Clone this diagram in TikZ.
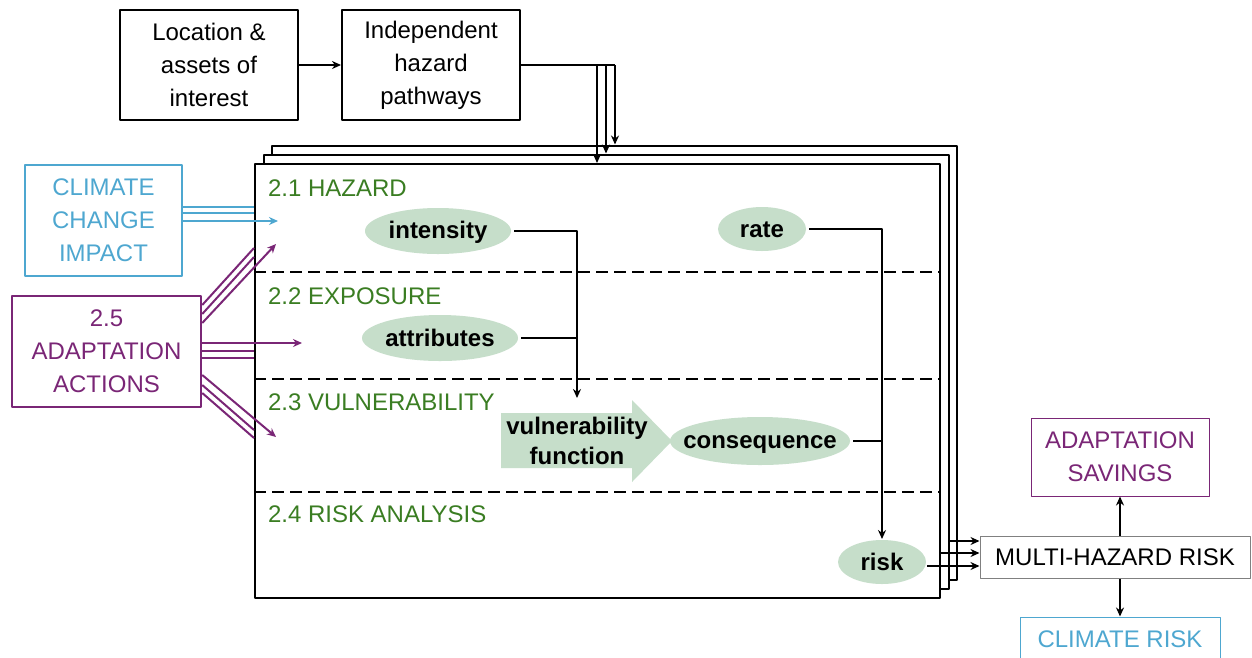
\documentclass[tikz,border=0pt]{standalone}
\usepackage{fontspec}
\setmainfont{Liberation Sans}
\usetikzlibrary{arrows.meta,shapes.geometric}
\definecolor{hazgreen}{RGB}{58,125,34}
\definecolor{blobgreen}{RGB}{198,222,202}
\definecolor{climblue}{RGB}{78,167,208}
\definecolor{adpurple}{RGB}{122,38,118}
\newcommand{\blobtxt}[1]{\makebox[0pt]{\vphantom{Ay}\raisebox{-2.5pt}{#1}}}
\begin{document}
\begin{tikzpicture}[x=1pt, y=-1pt, >={Stealth[length=9pt,width=8pt]}, line width=2pt, line join=round,
  font=\fontsize{24}{33}\selectfont,
  inbox/.style={draw, minimum width=178pt, minimum height=110pt, align=center},
  layer/.style={draw, fill=white, minimum width=685pt, minimum height=434pt, inner sep=0pt},
  sect/.style={anchor=west, inner sep=0pt, text=hazgreen},
  blob/.style={ellipse, fill=blobgreen, inner sep=0pt, font=\fontsize{24}{30}\selectfont\bfseries},
  outbox/.style={draw, line width=1pt, align=center}]
\useasboundingbox (0,0) rectangle (1252,657);
\node[inbox] (loc) at (209,65) {Location \&\\assets of\\interest};
\node[inbox] (hazpath) at (431,65) {Independent\\hazard\\pathways};
\draw[->] (loc) -- (hazpath);
\node[layer] (layerC) at (614.5,362.5) {};
\node[layer] (layerB) at (606,371.5) {};
\node[layer] (layerA) at (597.5,381) {};
\foreach \y in {272,379,492}
  \draw[dash pattern=on 12pt off 6pt] (layerA.west |- 0,\y) -- (layerA.east |- 0,\y);
\coordinate (hz1) at (597,65);
\coordinate (hz2) at (606,65);
\coordinate (hz3) at (615,65);
\draw (hazpath.east) -- (hz3);
\draw[->] (hz1) -- (hz1 |- layerA.north);
\draw[->] (hz2) -- (hz2 |- layerB.north);
\draw[->] (hz3) -- (hz3 |- layerC.north);
\node[sect] (shazard) at (267,188) {2.1 HAZARD};
\node[sect] (sexposure) at (267,296) {2.2 EXPOSURE};
\node[sect] (svulner) at (267,402) {2.3 VULNERABILITY};
\node[sect] (srisk) at (267,514) {2.4 RISK ANALYSIS};
\node[blob, minimum width=146pt, minimum height=46pt] (intensity) at (438,231) {\blobtxt{intensity}};
\node[blob, minimum width=88pt, minimum height=44pt] (rate) at (762,229) {\blobtxt{rate}};
\node[blob, minimum width=156pt, minimum height=46pt] (attributes) at (440,338) {\blobtxt{attributes}};
\node[blob, minimum width=180pt, minimum height=48pt] (consequence) at (760,441) {\blobtxt{consequence}};
\node[blob, minimum width=88pt, minimum height=44pt] (risk) at (882,562) {\blobtxt{risk}};
\fill[blobgreen] (501,413) -- (632,413) -- (632,400) -- (672,441) -- (632,482) -- (632,468) -- (501,468) -- cycle;
\node[font=\fontsize{24}{30}\selectfont\bfseries, align=center] (vulnfn) at (577,441) {vulnerability\\function};
\coordinate (vtop) at (577,398);
\draw[->, shorten <=2pt] (intensity.east) -| (vtop);
\draw[shorten <=2pt] (attributes.east) -- (attributes.east -| vtop);
\draw[->, shorten <=2pt] (rate.east) -| (risk.north);
\draw[shorten <=2pt] (consequence.east) -- (consequence.east -| risk.north);
\node[draw=climblue, text=climblue, line width=2.5pt, minimum width=157pt, minimum height=111pt, align=center] (climate) at (103.5,220.5) {CLIMATE\\CHANGE\\IMPACT};
\begin{scope}[climblue]
\draw (climate.east |- 0,207) -- (layerA.west |- 0,207);
\draw (climate.east |- 0,213) -- (layerA.west |- 0,213);
\draw[->] (climate.east |- 0,221) -- (278,221);
\end{scope}
\node[draw=adpurple, text=adpurple, line width=2.5pt, minimum width=189pt, minimum height=111pt, align=center] (adapt) at (106.5,351.5) {2.5\\ADAPTATION\\ACTIONS};
\begin{scope}[adpurple]
\draw (adapt.east |- 0,305) -- (layerA.west |- 0,248);
\draw (adapt.east |- 0,314) -- (layerA.west |- 0,257);
\draw[->] (adapt.east |- 0,323) -- (276,244);
\draw[->] (adapt.east |- 0,343) -- (302,343);
\draw (adapt.east |- 0,351) -- (layerA.west |- 0,351);
\draw (adapt.east |- 0,358) -- (layerA.west |- 0,358);
\draw[->] (adapt.east |- 0,375) -- (276,437);
\draw (adapt.east |- 0,385) -- (layerA.west |- 0,430);
\draw (adapt.east |- 0,393) -- (layerA.west |- 0,438);
\end{scope}
\node[outbox, draw=gray] (mhr) at (1115,557) [minimum width=270pt, minimum height=42pt] {MULTI-HAZARD RISK};
\node[outbox, draw=adpurple, text=adpurple, minimum width=178pt, minimum height=78pt] (savings) at (1120,457) {ADAPTATION\\SAVINGS};
\node[outbox, draw=climblue, text=climblue, minimum width=200pt, minimum height=44pt] (climrisk) at (1120,639) {CLIMATE RISK};
\draw[->] (savings.south |- mhr.north) -- (savings.south);
\draw[->] (climrisk.north |- mhr.south) -- (climrisk.north);
\draw[->] (layerB.east |- 0,541) -- (mhr.west |- 0,541);
\draw[->] (layerA.east |- 0,553) -- (mhr.west |- 0,553);
\draw[->] ([yshift=-4pt]risk.east) -- (mhr.west |- 0,566);
\end{tikzpicture}
\end{document}
